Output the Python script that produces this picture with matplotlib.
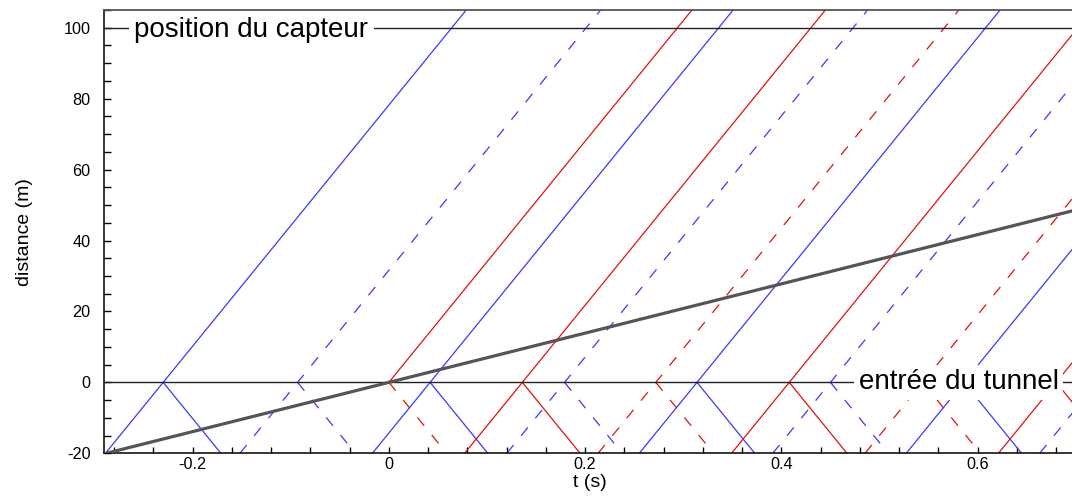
import matplotlib
matplotlib.use("Agg")
import matplotlib.pyplot as plt
import numpy as np
from matplotlib.ticker import MultipleLocator, FuncFormatter

plt.rcParams['font.family'] = ['Liberation Sans', 'DejaVu Sans']
plt.rcParams['axes.unicode_minus'] = False
plt.rcParams['lines.scale_dashes'] = False

# Physical parameters
c_son = 340.0          # speed of sound (m/s)
v_train = 69.44        # train speed (m/s) ~ 250 km/h
x_capteur = 100.0      # sensor position (m)
x_entree = 0.0         # tunnel entrance (m)

# Waves: time at which each one reaches the tunnel entrance (s)
wave_t0 = [-0.230, -0.093, 0.0, 0.042, 0.136, 0.179, 0.272, 0.314,
           0.408, 0.450, 0.544, 0.586, 0.680, 0.722]
wave_color = ['blue', 'blue', 'red', 'blue', 'red', 'blue', 'red', 'blue',
              'red', 'blue', 'red', 'blue', 'red', 'blue']
wave_style = ['solid', 'dashed', 'solid', 'solid', 'solid', 'dashed', 'dashed', 'solid',
              'solid', 'dashed', 'dashed', 'solid', 'solid', 'dashed']
# does the wave arrive from below the entrance line?
wave_from_below = [True, True, False, True, True, True, True, True,
                   True, True, True, True, True, True]
# style of the part reflected at the entrance
reflected_style = ['solid', 'dashed', 'dashed', 'solid', 'solid', 'dashed', 'dashed', 'solid',
                   'solid', 'dashed', 'dashed', 'solid', 'solid', 'dashed']

t_lim = (-0.29, 0.70)
y_lim = (-20, 105)

colors = {'blue': '#3838ff', 'red': '#e01010'}
dash = (0, (7.7, 8.6))


def ls(s):
    return '-' if s == 'solid' else dash


W, H = 1072, 498
fig = plt.figure(figsize=(W / 100, H / 100), dpi=100)
ax = fig.add_axes([104.3 / W, 1 - 453.3 / H, (1075.8 - 104.3) / W, (453.3 - 10.0) / H])

y_bot, y_top = y_lim
for t0, col, st, below, rst in zip(wave_t0, wave_color, wave_style, wave_from_below, reflected_style):
    y_start = y_bot if below else x_entree
    ys = np.array([y_start, y_top])
    ax.plot(t0 + (ys - x_entree) / c_son, ys, color=colors[col], lw=0.9, ls=ls(st), zorder=2)
    yr = np.array([x_entree, y_bot])
    ax.plot(t0 - (yr - x_entree) / c_son, yr, color=colors[col], lw=0.9, ls=ls(rst), zorder=2)

# train nose trajectory
tt = np.array(t_lim)
ax.plot(tt, v_train * tt, color='#555555', lw=2.3, zorder=4, solid_capstyle='butt')

# reference lines
ax.axhline(x_capteur, color='#222222', lw=1.0, zorder=3)
ax.axhline(x_entree, color='#222222', lw=1.0, zorder=3)

ax.text(-0.2595, x_capteur - 0.6, 'position du capteur', fontsize=20, ha='left', va='center',
        bbox=dict(boxstyle='square,pad=0.2', fc='white', ec='none'), zorder=5)
ax.text(0.4787, x_entree, 'entrée du tunnel', fontsize=20, ha='left', va='center',
        bbox=dict(boxstyle='square,pad=0.15', fc='white', ec='none'), zorder=5)

ax.set_xlim(*t_lim)
ax.set_ylim(*y_lim)
ax.xaxis.set_major_locator(MultipleLocator(0.2))
ax.xaxis.set_minor_locator(MultipleLocator(0.04))
ax.yaxis.set_major_locator(MultipleLocator(20))
ax.yaxis.set_minor_locator(MultipleLocator(5))
ax.xaxis.set_major_formatter(FuncFormatter(lambda v, p: '0' if abs(v) < 1e-9 else f'{v:g}'))
ax.yaxis.set_major_formatter(FuncFormatter(lambda v, p: f'{v:g}'))

ax.tick_params(axis='y', which='both', direction='in', length=5.2, width=1, pad=10, labelsize=11.7)
ax.tick_params(axis='x', which='both', direction='in', length=4.5, width=1, pad=3, labelsize=11.7)
ax.tick_params(which='both', right=False, top=False)

for s in ['left', 'bottom']:
    ax.spines[s].set_color('black')
    ax.spines[s].set_linewidth(1.1)
ax.spines['top'].set_color('#555555')
ax.spines['top'].set_linewidth(1.3)
ax.spines['right'].set_visible(False)

ax.set_xlabel('t (s)', fontsize=14, labelpad=1)
ax.set_ylabel('distance (m)', fontsize=14)
ax.yaxis.set_label_coords(-0.073, 0.5)

fig.savefig('out.png', dpi=100)
